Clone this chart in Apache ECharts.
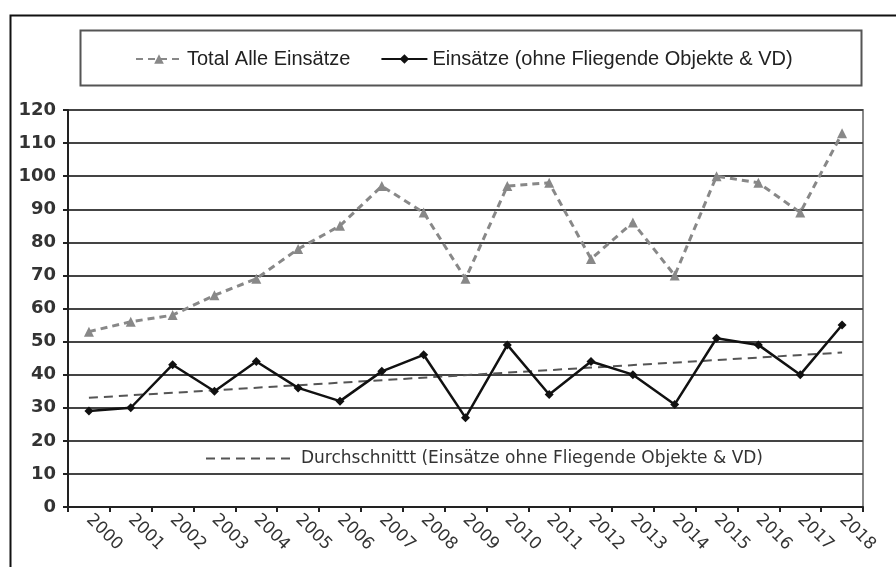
<!DOCTYPE html>
<html>
<head>
<meta charset="utf-8">
<script src="https://cdn.jsdelivr.net/npm/echarts@6/dist/echarts.min.js"></script>
<style>
  html, body { margin: 0; padding: 0; background: #fff; }
  #chart { width: 896px; height: 567px; }
</style>
</head>
<body>
<div id="chart"></div>
<script>
    // Jahre
    var years = ['2000', '2001', '2002', '2003', '2004', '2005', '2006', '2007', '2008', '2009',
        '2010', '2011', '2012', '2013', '2014', '2015', '2016', '2017', '2018'];
    // Total Alle Einsätze
    var totalAll = [53, 56, 58, 64, 69, 78, 85, 97, 89, 69, 97, 98, 75, 86, 70, 100, 98, 89, 113];
    // Einsätze (ohne Fliegende Objekte & VD)
    var ohneFO = [29, 30, 43, 35, 44, 36, 32, 41, 46, 27, 49, 34, 44, 40, 31, 51, 49, 40, 55];
    // Durchschnitt: Anfangs- und Endwert der Trendlinie
    var trendStart = 33;
    var trendEnd = 46.7;
    var yTicks = { min: 0, max: 120, interval: 10 };

    var nameTotal = 'Total Alle Einsätze';
    var nameOhne = 'Einsätze (ohne Fliegende Objekte & VD)';
    var nameTrend = 'Durchschnittt (Einsätze ohne Fliegende Objekte & VD)';

    var trendData = years.map(function(y, i) {
        if (i === 0) return trendStart;
        if (i === years.length - 1) return trendEnd;
        return null;
    });

    var option = {
        backgroundColor: '#fff',
        animation: false,
        graphic: [{
            type: 'rect',
            left: 8, top: 13,
            shape: { width: 900, height: 600 },
            style: { fill: 'none', stroke: '#111', lineWidth: 2 }
        }, {
            type: 'rect',
            left: 78, top: 28,
            shape: { width: 781, height: 55 },
            style: { fill: 'none', stroke: '#555', lineWidth: 2 }
        }],
        legend: [{
            data: [nameTotal, nameOhne],
            left: 130,
            top: 44,
            itemWidth: 46,
            itemHeight: 12,
            itemGap: 30,
            textStyle: {
                fontFamily: 'Liberation Sans',
                fontSize: 20,
                color: '#222'
            }
        }, {
            data: [nameTrend],
            left: 200,
            top: 445,
            itemWidth: 90,
            itemHeight: 12,
            itemStyle: { opacity: 0 },
            textStyle: {
                fontFamily: 'DejaVu Sans',
                fontSize: 17,
                color: '#333'
            }
        }],
        grid: {
            left: 68,
            right: 33,
            top: 110,
            bottom: 60,
            show: true,
            borderColor: '#888',
            borderWidth: 2
        },
        xAxis: {
            type: 'category',
            data: years,
            boundaryGap: true,
            axisLine: { lineStyle: { color: '#222', width: 2 } },
            axisTick: { show: true, length: 5, lineStyle: { color: '#222', width: 2 } },
            axisLabel: {
                rotate: -45,
                margin: 10,
                fontFamily: 'DejaVu Sans',
                fontSize: 17,
                color: '#333'
            }
        },
        yAxis: {
            type: 'value',
            min: yTicks.min,
            max: yTicks.max,
            interval: yTicks.interval,
            axisLine: { show: true, lineStyle: { color: '#222', width: 2 } },
            axisTick: { show: true, length: 5, lineStyle: { color: '#222', width: 2 } },
            axisLabel: {
                margin: 12,
                fontFamily: 'DejaVu Sans',
                fontWeight: 'bold',
                fontSize: 18,
                color: '#333'
            },
            splitLine: { lineStyle: { color: '#444', width: 2 } }
        },
        series: [{
            name: nameTotal,
            type: 'line',
            data: totalAll,
            symbol: 'triangle',
            symbolSize: 10,
            color: '#888',
            lineStyle: { color: '#888', width: 3, type: [7, 5] },
            itemStyle: { color: '#888' },
            z: 3
        }, {
            name: nameOhne,
            type: 'line',
            data: ohneFO,
            symbol: 'diamond',
            symbolSize: 9,
            color: '#111',
            lineStyle: { color: '#111', width: 2.5 },
            itemStyle: { color: '#111' },
            z: 4
        }, {
            name: nameTrend,
            type: 'line',
            data: trendData,
            connectNulls: true,
            showSymbol: false,
            symbol: 'none',
            color: '#555',
            lineStyle: { color: '#555', width: 2, type: [9, 6] },
            z: 2
        }]
    };

    var myChart = echarts.init(document.getElementById('chart'));
    myChart.setOption(option);
</script>
</body>
</html>
